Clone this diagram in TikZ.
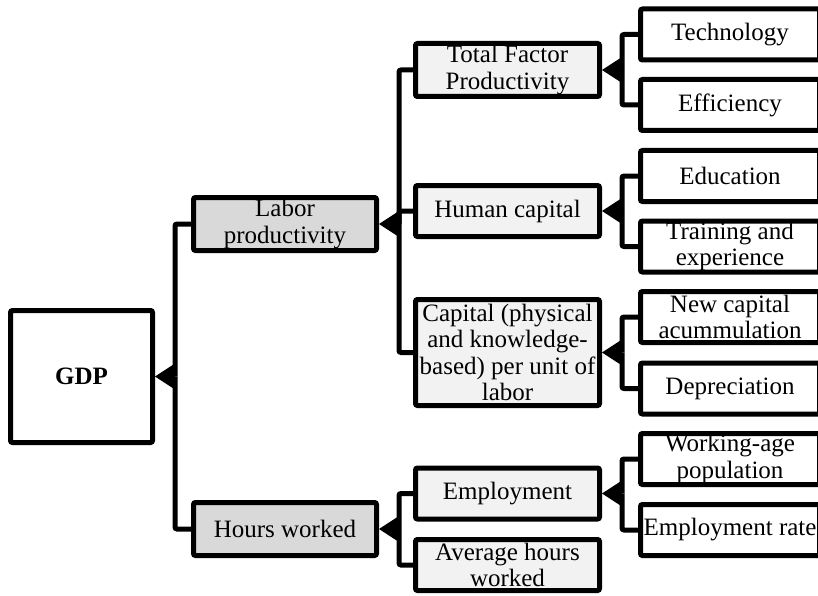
\documentclass[tikz,border=0pt]{standalone}
\usepackage{fontspec}
\setmainfont{Liberation Serif}
\usetikzlibrary{arrows.meta,calc}
\definecolor{darkfill}{RGB}{217,217,217}
\definecolor{lightfill}{RGB}{242,242,242}
\begin{document}
\begin{tikzpicture}[x=1pt,y=-1pt,
  box/.style={draw, line width=5pt, rounded corners=2pt, inner sep=0pt, align=center,
    font=\fontsize{25}{26.5}\selectfont},
  topbox/.style={box, fill=darkfill, minimum width=183pt, minimum height=53pt},
  midbox/.style={box, fill=lightfill, minimum width=184pt, minimum height=51pt},
  leafbox/.style={box, fill=white, minimum width=179pt, minimum height=51pt},
  conn/.style={line width=5pt, rounded corners=2pt},
  arr/.style={line width=5pt, -{Triangle[length=20pt,width=26pt,line width=0pt]}}]
\clip (0,0) rectangle (818,596);
% level 0
\node[box, fill=white, minimum width=142pt, minimum height=132pt] (gdp) at (81.5,376.5) {\textbf{GDP}};
% level 1
\node[topbox] (lp) at (285,224) {Labor\\productivity};
\node[topbox] (hw) at (285,529) {Hours worked};
% level 2
\node[midbox, minimum height=53pt] (tfp) at (507.5,70) {Total Factor\\Productivity};
\node[midbox] (hc) at (507.5,211) {Human capital};
\node[midbox, minimum height=106pt] (cap) at (507.5,352.5) {Capital (physical\\and knowledge-\\based) per unit of\\labor};
\node[midbox] (emp) at (507.5,493.5) {Employment};
\node[midbox] (avg) at (507.5,565) {Average hours\\worked};
% leaves
\node[leafbox] (tech) at (730,34.5) {Technology};
\node[leafbox] (eff) at (730,105) {Efficiency};
\node[leafbox] (edu) at (730,176) {Education};
\node[leafbox] (train) at (730,246.5) {Training and\\experience};
\node[leafbox] (newc) at (730,317) {New capital\\acummulation};
\node[leafbox] (dep) at (730,388.5) {Depreciation};
\node[leafbox] (work) at (730,459) {Working-age\\population};
\node[leafbox] (emprate) at (730,530) {Employment rate};
% junctions
\coordinate (jg) at ($(gdp.east)+(20,0)$);
\coordinate (jlp) at ($(lp.east)+(20,0)$);
\coordinate (jhw) at ($(hw.east)+(20,0)$);
\coordinate (jtfp) at ($(tfp.east)+(20,0)$);
\coordinate (jhc) at ($(hc.east)+(20,0)$);
\coordinate (jcap) at ($(cap.east)+(20,0)$);
\coordinate (jemp) at ($(emp.east)+(20,0)$);
% connectors
\draw[conn] (lp.west) -| (jg);
\draw[conn] (hw.west) -| (jg);
\draw[arr] (jg) -- (gdp.east);
\draw[conn] (tfp.west) -| (jlp);
\draw[conn] (hc.west) -| (jlp);
\draw[conn] (cap.west) -| (jlp);
\draw[arr] (jlp) -- (lp.east);
\draw[conn] (emp.west) -| (jhw);
\draw[conn] (avg.west) -| (jhw);
\draw[arr] (jhw) -- (hw.east);
\draw[conn] (tech.west) -| (jtfp);
\draw[conn] (eff.west) -| (jtfp);
\draw[arr] (jtfp) -- (tfp.east);
\draw[conn] (edu.west) -| (jhc);
\draw[conn] (train.west) -| (jhc);
\draw[arr] (jhc) -- (hc.east);
\draw[conn] (newc.west) -| (jcap);
\draw[conn] (dep.west) -| (jcap);
\draw[arr] (jcap) -- (cap.east);
\draw[conn] (work.west) -| (jemp);
\draw[conn] (emprate.west) -| (jemp);
\draw[arr] (jemp) -- (emp.east);
\end{tikzpicture}
\end{document}
